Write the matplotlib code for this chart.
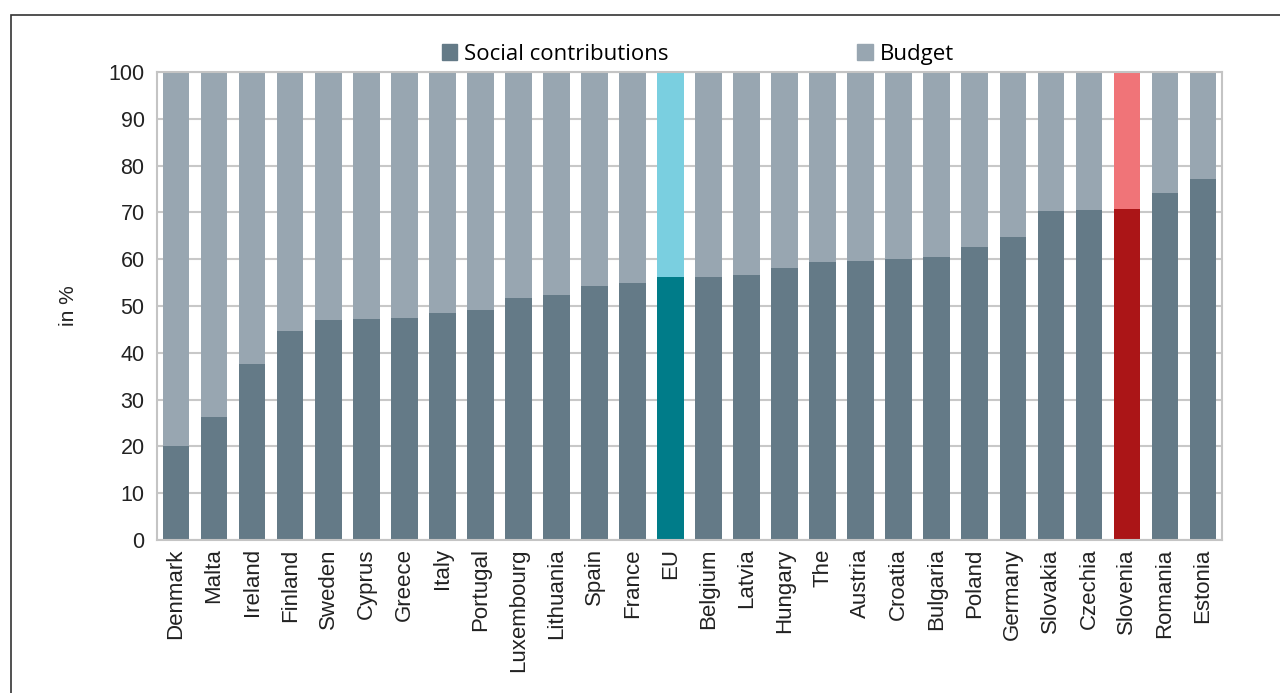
import matplotlib.pyplot as plt
from matplotlib.patches import Rectangle

countries = ["Denmark", "Malta", "Ireland", "Finland", "Sweden", "Cyprus", "Greece",
             "Italy", "Portugal", "Luxembourg", "Lithuania", "Spain", "France", "EU",
             "Belgium", "Latvia", "Hungary", "The", "Austria", "Croatia", "Bulgaria",
             "Poland", "Germany", "Slovakia", "Czechia", "Slovenia", "Romania", "Estonia"]
social = [20.0, 26.2, 37.5, 44.7, 47.0, 47.2, 47.4, 48.5, 49.1, 51.7, 52.4, 54.3,
          54.9, 56.1, 56.3, 56.6, 58.1, 59.4, 59.6, 60.0, 60.5, 62.6, 64.7, 70.4,
          70.5, 70.7, 74.2, 77.1]
budget = [100 - s for s in social]

dark = {"EU": "#007c89", "Slovenia": "#ab1517"}
light = {"EU": "#7acfe0", "Slovenia": "#f07478"}
base_dark = "#647a87"
base_light = "#98a6b1"

plt.rcParams['font.family'] = ['Liberation Sans', 'DejaVu Sans']

fig = plt.figure(figsize=(12.8, 6.93), dpi=100)
ax = fig.add_axes([0.1227, 0.2208, 0.832, 0.6753])

x = range(len(countries))
c_dark = [dark.get(c, base_dark) for c in countries]
c_light = [light.get(c, base_light) for c in countries]
ax.bar(x, social, width=0.70, color=c_dark, zorder=2)
ax.bar(x, budget, bottom=social, width=0.70, color=c_light, zorder=2)

ax.set_xlim(-0.5, len(countries) - 0.5)
ax.set_ylim(0, 100)
ax.set_yticks(range(0, 101, 10))
ax.set_xticks(list(x))
ax.set_xticklabels(countries, rotation=90, fontsize=16, color="#222222")
ax.tick_params(axis='y', labelsize=15.5, labelcolor="#222222", length=0, pad=9)
ax.tick_params(axis='x', length=0, pad=6)
ax.yaxis.grid(True, color="#c8c8c8", linewidth=1.5, zorder=1)
ax.set_axisbelow(True)
for sp in ax.spines.values():
    sp.set_color("#c4c4c4")
    sp.set_linewidth(1.5)
ax.set_ylabel("in %", fontsize=15, color="#222222", labelpad=22)

# legend as proxy squares
h1 = Rectangle((0, 0), 1, 1, color=base_dark)
h2 = Rectangle((0, 0), 1, 1, color=base_light)
fig.legend([h1, h2], ["Social contributions", "Budget"], loc='center',
           bbox_to_anchor=(0.545, 0.922), ncol=2, frameon=False, columnspacing=8.5,
           handlelength=0.7, handleheight=0.7, handletextpad=0.3,
           prop={'family': 'Open Sans', 'size': 16})

# outer frame
fig.patches.append(Rectangle((0.0086, -0.05), 1.05, 1.028, transform=fig.transFigure,
                             fill=False, edgecolor="#333333", linewidth=1.2))

fig.savefig("out.png", dpi=100)
